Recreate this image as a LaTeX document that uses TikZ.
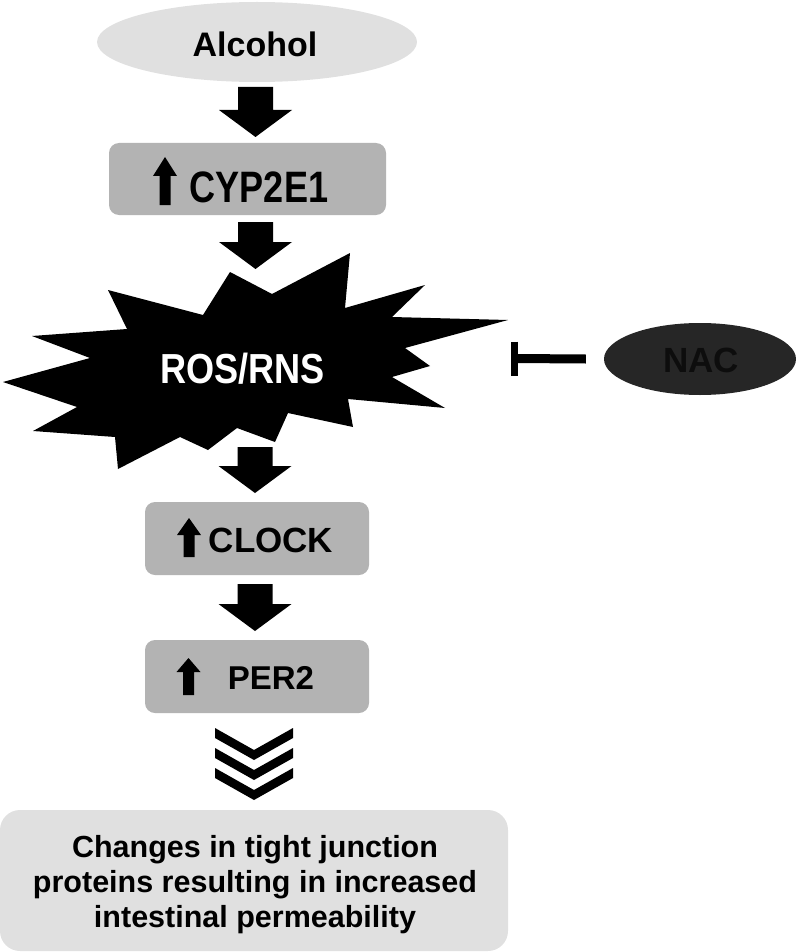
\documentclass[tikz,border=0pt]{standalone}
\usepackage{fontspec}
\setmainfont{Liberation Sans}
\usepackage{graphicx}
\usetikzlibrary{calc,shapes.geometric}
\definecolor{lightfill}{HTML}{E0E0E0}
\definecolor{boxfill}{HTML}{B3B3B3}
\definecolor{nacfill}{HTML}{262626}
\definecolor{nactext}{HTML}{0D0D0D}
\newcommand{\blockarrow}[2]{%
  \fill ($(#1)+(-17.5,0)$) -- ($(#2)+(-17.5,-27)$) -- ($(#2)+(-36.5,-27)$) -- (#2)
     -- ($(#2)+(36.5,-27)$) -- ($(#2)+(17.5,-27)$) -- ($(#1)+(17.5,0)$) -- cycle;}
\newcommand{\smallup}[3]{%
  \fill ($(#1)+(-5.5,#3)$) -- ($(#1)+(-5.5,#2)$) -- ($(#1)+(-12,#2)$) -- (#1)
     -- ($(#1)+(12,#2)$) -- ($(#1)+(5.5,#2)$) -- ($(#1)+(5.5,#3)$) -- cycle;}
\newcommand{\fsz}[1]{\fontsize{#1}{#1}\selectfont\bfseries}
\begin{document}
\begin{tikzpicture}[x=1pt,y=-1pt,
  lbl/.style={inner sep=0pt, anchor=base},
  gbox/.style={fill=boxfill, rounded corners=10pt, inner sep=0pt, minimum width=224pt, minimum height=73pt},
  oval/.style={ellipse, inner sep=0pt}]
\useasboundingbox (0,0) rectangle (798,952);

% Alcohol
\node[oval, fill=lightfill, minimum width=320pt, minimum height=80pt] (alcohol) at (257,42) {};
\node[lbl, font=\fsz{34}] (alcoholtxt) at (255,57) {Alcohol};

% CYP2E1
\node[gbox, minimum width=277pt, minimum height=72pt] (cyp) at (247.5,179) {};
\node[lbl, font=\fsz{44}] (cyptxt) at (259,202) {\scalebox{0.82}[1]{CYP2E1}};
\coordinate (cypup) at (165,157);
\smallup{cypup}{19}{48}

% ROS/RNS starburst
\fill (230,272) -- (272,294) -- (350,253) -- (345,308) -- (425,285) -- (392,317)
  -- (508,320) -- (405,348) -- (430,366) -- (392,377) -- (445,408) -- (348,399)
  -- (353,427) -- (288,413) -- (275,442) -- (237,428) -- (208,450) -- (180,437)
  -- (118,469) -- (115,437) -- (33,431) -- (77,407) -- (3,382) -- (90,358)
  -- (32,336) -- (127,329) -- (108,290) -- (203,315) -- cycle;
\node[lbl, font=\fsz{42}, text=white] (ros) at (242.5,383) {\scalebox{0.86}[1]{ROS/RNS}};

% NAC
\node[oval, fill=nacfill, minimum width=192pt, minimum height=72pt] (nac) at (700,359) {};
\node[lbl, font=\fsz{35}, text=nactext] (nactxt) at (701,372) {NAC};
\coordinate (inh) at (514.5,358.5);
\draw[line width=9pt] ([xshift=-18pt]nac.west) -- (inh);
\draw[line width=7pt] ($(inh)+(0,-17)$) -- ($(inh)+(0,17)$);

% CLOCK
\node[gbox] (clock) at (257,538.5) {};
\node[lbl, font=\fsz{35}] (clocktxt) at (271,552) {CLOCK};
\coordinate (clockup) at (189,518);
\smallup{clockup}{17}{39}

% PER2
\node[gbox] (per) at (257,676.5) {};
\node[lbl, font=\fsz{33}] (pertxt) at (271,689) {PER2};
\coordinate (perup) at (188.5,658);
\smallup{perup}{14}{37}

% block arrows
\coordinate (a1s) at (255.5,87);  \coordinate (a1e) at (255.5,137);
\coordinate (a2s) at (255.5,222); \coordinate (a2e) at (255.5,269);
\coordinate (a3s) at (255,447);   \coordinate (a3e) at (255,493);
\coordinate (a4s) at (255,584);   \coordinate (a4e) at (255,631);
\blockarrow{a1s}{a1e}
\blockarrow{a2s}{a2e}
\blockarrow{a3s}{a3e}
\blockarrow{a4s}{a4e}

% chevrons
\coordinate (chev) at (254,728);
\foreach \k in {0,20,40}{
  \fill ($(chev)+(-39,\k)$) -- ($(chev)+(0,{\k+22})$) -- ($(chev)+(39,\k)$)
     -- ($(chev)+(39,{\k+10})$) -- ($(chev)+(0,{\k+32})$) -- ($(chev)+(-39,{\k+10})$) -- cycle;
}

% outcome
\node[fill=lightfill, rounded corners=20pt, inner sep=0pt, minimum width=508pt, minimum height=141pt] (outcome) at (254,880.5) {};
\node[inner sep=0pt, align=center, font=\fontsize{30.5}{35}\selectfont\bfseries] (outtxt) at (255,885)
  {Changes in tight junction\\proteins resulting in increased\\intestinal permeability};
\end{tikzpicture}
\end{document}
